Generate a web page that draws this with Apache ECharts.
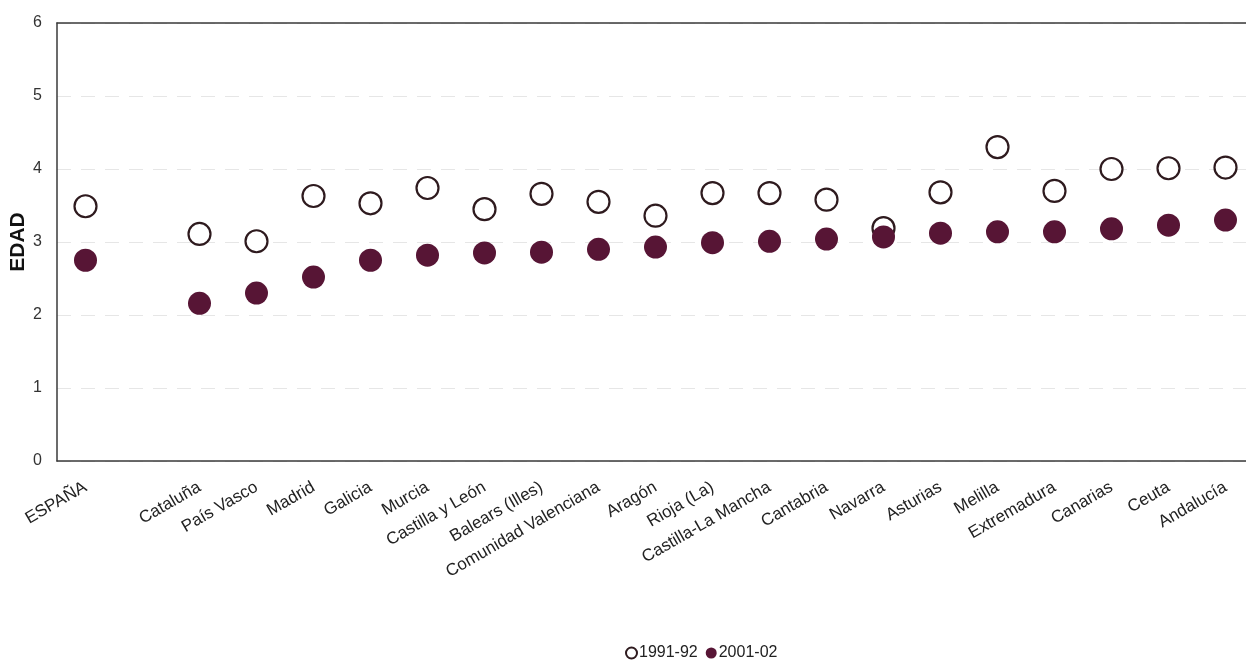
<!DOCTYPE html>
<html>
<head>
<meta charset="utf-8">
<script src="https://cdn.jsdelivr.net/npm/echarts@6/dist/echarts.min.js"></script>
<style>
html,body{margin:0;padding:0;background:#fff;}
#chart{width:1246px;height:661px;}
</style>
</head>
<body>
<div id="chart"></div>
<script>
const categories = ['ESPAÑA', '', 'Cataluña', 'País Vasco', 'Madrid', 'Galicia', 'Murcia', 'Castilla y León', 'Balears (Illes)', 'Comunidad Valenciana', 'Aragón', 'Rioja (La)', 'Castilla-La Mancha', 'Cantabria', 'Navarra', 'Asturias', 'Melilla', 'Extremadura', 'Canarias', 'Ceuta', 'Andalucía'];
const values1991 = [3.49, null, 3.11, 3.01, 3.63, 3.53, 3.74, 3.45, 3.66, 3.55, 3.36, 3.67, 3.67, 3.58, 3.19, 3.68, 4.30, 3.70, 4.00, 4.01, 4.02];
const values2001 = [2.75, null, 2.16, 2.30, 2.52, 2.75, 2.82, 2.85, 2.86, 2.90, 2.93, 2.99, 3.01, 3.04, 3.07, 3.12, 3.14, 3.14, 3.18, 3.23, 3.30];
const yTicks = [0, 1, 2, 3, 4, 5, 6];
const seriesNames = ['1991-92', '2001-02'];

const chart = echarts.init(document.getElementById('chart'), null, {renderer: 'canvas'});
chart.setOption({
  animation: false,
  backgroundColor: '#ffffff',
  textStyle: {fontFamily: 'Liberation Sans, Arial, sans-serif'},
  grid: {left: 57, top: 23, width: 1197, height: 438, show: false, containLabel: false, outerBoundsMode: 'none'},
  legend: {
    top: 640, left: 620, itemGap: 8, itemWidth: 11, itemHeight: 11,
    textStyle: {fontSize: 16, color: '#222', padding: [0, 0, 0, -3]},
    data: seriesNames
  },
  xAxis: [{
    type: 'category', data: categories, boundaryGap: true,
    axisLine: {show: true, lineStyle: {color: '#3a3a3a', width: 1.5}},
    axisTick: {show: false},
    axisLabel: {interval: 0, rotate: 30, margin: 25, fontSize: 17, color: '#222'},
    splitLine: {show: false}
  }, {
    type: 'category', data: categories, position: 'top', boundaryGap: true,
    axisLine: {show: true, lineStyle: {color: '#3a3a3a', width: 1.5}},
    axisTick: {show: false}, axisLabel: {show: false}, splitLine: {show: false}, z: 10
  }],
  yAxis: {
    type: 'value', min: yTicks[0], max: yTicks[yTicks.length - 1], interval: 1,
    name: 'EDAD', nameLocation: 'middle', nameGap: 28, nameRotate: 90, nameMoveOverlap: false,
    nameTextStyle: {fontSize: 21, fontWeight: 'bold', color: '#111'},
    axisLine: {show: true, lineStyle: {color: '#3a3a3a', width: 1.5}},
    axisTick: {show: false},
    axisLabel: {fontSize: 16, color: '#333', margin: 15},
    splitLine: {show: true, lineStyle: {color: '#e6e6e6', type: [14, 10], width: 1}}
  },
  series: [
    {
      name: seriesNames[0], type: 'scatter', data: values1991, symbol: 'circle', symbolSize: 22,
      itemStyle: {color: '#ffffff', borderColor: '#2e1a1e', borderWidth: 2.2, opacity: 1},
      z: 2
    },
    {
      name: seriesNames[1], type: 'scatter', data: values2001, symbol: 'circle', symbolSize: 23,
      itemStyle: {color: '#571535', opacity: 1},
      z: 3
    }
  ]
});
</script>
</body>
</html>
